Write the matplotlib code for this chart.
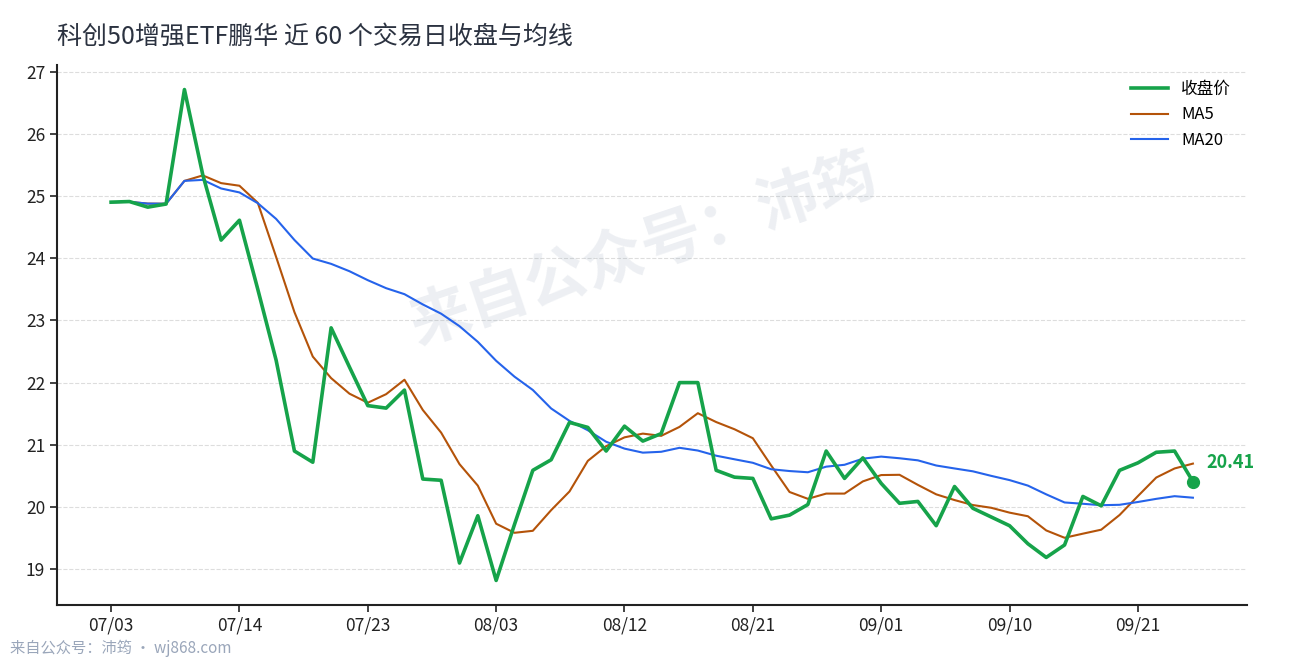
import matplotlib
matplotlib.use('Agg')
import matplotlib.pyplot as plt
import numpy as np
import pandas as pd

plt.rcParams['font.family'] = ['Noto Sans CJK SC', 'DejaVu Sans']

# closing prices, 60 trading days
close = [24.90, 24.91, 24.82, 24.87, 26.71, 25.34, 24.29, 24.61, 23.50, 22.36,
         20.90, 20.72, 22.88, 22.25, 21.63, 21.59, 21.88, 20.45, 20.43, 19.10,
         19.86, 18.82, 19.72, 20.59, 20.76, 21.36, 21.28, 20.90, 21.30, 21.06,
         21.18, 22.00, 22.00, 20.59, 20.48, 20.46, 19.81, 19.87, 20.04, 20.90,
         20.46, 20.79, 20.38, 20.06, 20.09, 19.70, 20.33, 19.98, 19.84, 19.70,
         19.41, 19.19, 19.39, 20.17, 20.02, 20.59, 20.71, 20.88, 20.90, 20.41]

tick_pos = [0, 7, 14, 21, 28, 35, 42, 49, 56]
tick_labels = ['07/03', '07/14', '07/23', '08/03', '08/12', '08/21', '09/01', '09/10', '09/21']
y_ticks = [19, 20, 21, 22, 23, 24, 25, 26, 27]

title = '科创50增强ETF鹏华 近 60 个交易日收盘与均线'

s = pd.Series(close)
ma5 = s.rolling(5, min_periods=1).mean()
ma20 = s.rolling(20, min_periods=1).mean()
x = np.arange(len(close))

fig = plt.figure(figsize=(12.9, 6.6), dpi=100)
ax = fig.add_axes([57 / 1290, 55 / 660, 1190 / 1290, 540 / 660])

ax.plot(x, close, color='#16a34a', lw=2.6, label='收盘价', zorder=4)
ax.plot(x, ma5, color='#b45309', lw=1.5, label='MA5', zorder=3)
ax.plot(x, ma20, color='#2563eb', lw=1.5, label='MA20', zorder=3)

# last close marker
ax.plot(x[-1], close[-1], 'o', color='#16a34a', ms=8.5, zorder=5)
ax.annotate('{:.2f}'.format(close[-1]), xy=(x[-1], close[-1]),
            xytext=(10, 14), textcoords='offset points',
            ha='left', va='center', fontsize=13, fontweight='bold',
            color='#16a34a')

# watermark
ax.text(0.493, 0.655, '来自公众号：沛筠', transform=ax.transAxes,
        ha='center', va='center', rotation=18.5, fontsize=44,
        fontweight='bold', color='#94a3b8', alpha=0.17, zorder=1)

ax.set_xticks(tick_pos)
ax.set_xticklabels(tick_labels)
ax.set_yticks(y_ticks)
ax.tick_params(labelsize=12.5, length=5, width=1.2, colors='#222222')
ax.grid(axis='y', ls='--', color='#dddddd', lw=0.8)
ax.set_axisbelow(True)

for side in ['top', 'right']:
    ax.spines[side].set_visible(False)
for side in ['left', 'bottom']:
    ax.spines[side].set_linewidth(1.5)
    ax.spines[side].set_color('#222222')

ax.legend(loc='upper right', frameon=False, fontsize=12, handlelength=2.2,
          labelspacing=0.52, borderaxespad=0.55)

fig.text(57 / 1290, 1 - 37 / 660, title, ha='left', va='center',
         fontsize=18, color='#2b3240')
fig.text(10 / 1290, 1 - 648 / 660, '来自公众号：沛筠 · wj868.com', ha='left',
         va='center', fontsize=11, color='#9aa6ba')

fig.savefig('out.png', dpi=100)
